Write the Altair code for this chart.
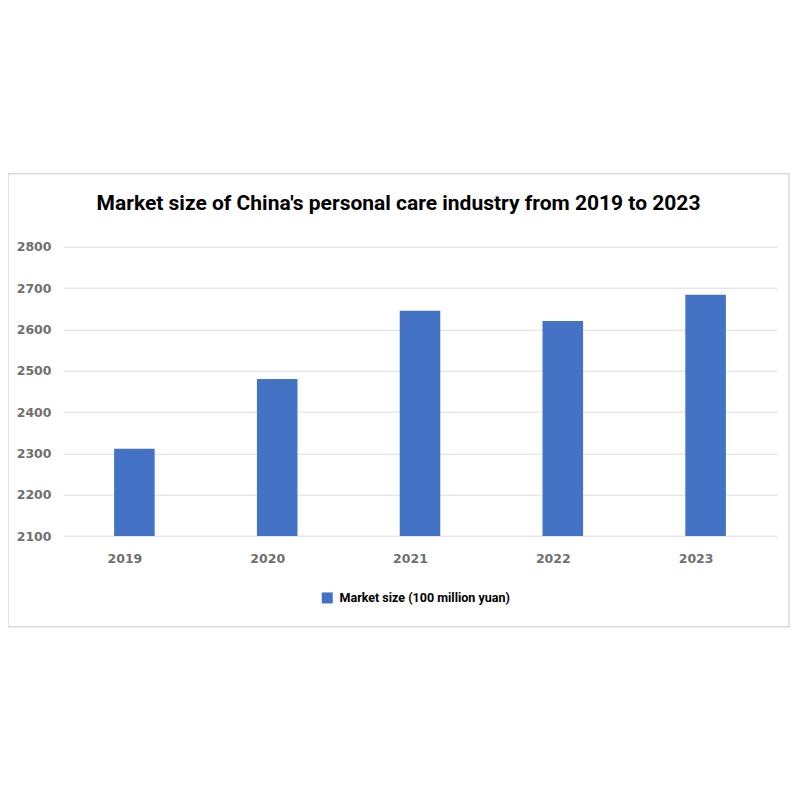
import altair as alt
import pandas as pd

years = ["2019", "2020", "2021", "2022", "2023"]
market_size = [2311, 2480, 2645, 2620, 2684]
series_name = "Market size (100 million yuan)"
y_ticks = [2100, 2200, 2300, 2400, 2500, 2600, 2700, 2800]

df = pd.DataFrame({"year": years, "value": market_size, "series": [series_name] * len(years)})

TITLE_FONT = "Roboto, Liberation Sans, sans-serif"
AXIS_FONT = "DejaVu Sans, Verdana, sans-serif"

bars = alt.Chart(df).mark_bar(clip=True).encode(
    x=alt.X("year:N", sort=years,
            scale=alt.Scale(paddingInner=0.716, paddingOuter=0.358),
            axis=alt.Axis(title=None, labelAngle=0, labelFont=AXIS_FONT, labelFontSize=12.5,
                          labelFontWeight="bold",
                          labelColor="#707070", labelPadding=16, labelOffset=-9.5,
                          ticks=False, domain=False, grid=False)),
    y=alt.Y("value:Q",
            scale=alt.Scale(domain=[2100, 2800], nice=False, zero=False),
            axis=alt.Axis(title=None, values=y_ticks, format="d", labelFont=AXIS_FONT,
                          labelFontSize=12.5, labelFontWeight="bold",
                          labelColor="#707070", labelPadding=12, ticks=False, domain=False,
                          grid=True, gridColor="#dcdcdc", gridWidth=1)),
    color=alt.Color("series:N", scale=alt.Scale(range=["#4472C4"]),
                    legend=alt.Legend(title=None, orient="none", legendX=258, legendY=345,
                                      symbolType="square", symbolSize=121, symbolStrokeWidth=0,
                                      labelFont=TITLE_FONT, labelFontSize=12.5, labelFontWeight="bold",
                                      labelColor="#000000", padding=0, labelOffset=6, labelLimit=0)),
)

frame = alt.Chart(pd.DataFrame({"a": [0]})).mark_rect(
    fill=None, stroke="#d9d9d9", strokeWidth=1.5
).encode(
    x=alt.value(-55), x2=alt.value(726), y=alt.value(-73), y2=alt.value(380)
)

chart = alt.layer(frame, bars).properties(
    width=714,
    height=289.3,
    title=alt.TitleParams(
        text="Market size of China's personal care industry from 2019 to 2023",
        font=TITLE_FONT, fontSize=21, fontWeight="bold", color="#000000",
        anchor="middle", frame="group", dx=-21.5, offset=-41,
    ),
    autosize=alt.AutoSizeParams(type="none"),
    padding={"left": 55, "top": 238.7, "right": 13, "bottom": 150},
).configure_view(stroke=None)

chart.save("out.html", embed_options={"renderer": "svg", "actions": False})
